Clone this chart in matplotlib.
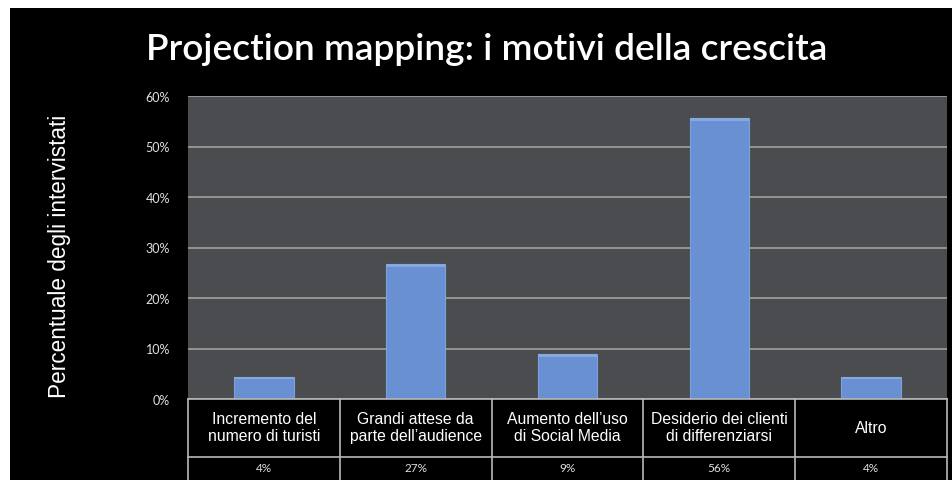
import matplotlib
matplotlib.use("Agg")
import matplotlib.pyplot as plt
import matplotlib.patches as mpatches

categories = ["Incremento del\nnumero di turisti",
              "Grandi attese da\nparte dell\u2019audience",
              "Aumento dell\u2019uso\ndi Social Media",
              "Desiderio dei clienti\ndi differenziarsi",
              "Altro"]
values = [4.4, 26.7, 8.9, 55.6, 4.4]
value_labels = ["4%", "27%", "9%", "56%", "4%"]
yticks = [0, 10, 20, 30, 40, 50, 60]
ytick_labels = ["0%", "10%", "20%", "30%", "40%", "50%", "60%"]
title = "Projection mapping: i motivi della crescita"
ylabel = "Percentuale degli intervistati"

W, H = 953, 481
fig = plt.figure(figsize=(W / 100, H / 100), dpi=100)
fig.patch.set_facecolor("white")
fig.add_artist(mpatches.Rectangle((10 / W, 0), 1, 1 - 9 / H, transform=fig.transFigure,
                                  facecolor="black", edgecolor="none", zorder=0))

L, R, T, B = 188, 947, 97, 400
ax = fig.add_axes([L / W, 1 - B / H, (R - L) / W, (B - T) / H])
ax.set_facecolor("#4a4c50")
x = list(range(len(categories)))
bars = ax.bar(x, values, width=0.39, color="#6890d2", edgecolor="#7fa2dc",
              linewidth=0.8, zorder=3)
for b in bars:
    ax.add_patch(mpatches.Rectangle((b.get_x(), b.get_height() - 0.5), b.get_width(), 0.5,
                                    facecolor="#86a8e0", edgecolor="none", zorder=4))
ax.set_xlim(-0.5, len(categories) - 0.5)
ax.set_ylim(0, 60)
ax.set_yticks(yticks)
ax.set_yticklabels(ytick_labels, family="Lato", fontsize=9, color="#e0e0e0")
ax.set_xticks([])
ax.tick_params(axis="y", length=0, pad=13)
ax.yaxis.grid(True, color="#9a9a9a", linewidth=1.3, zorder=1)
for s in ax.spines.values():
    s.set_visible(False)

fig.text(487 / W, 1 - 50 / H, title, ha="center", va="center", color="white",
         family="Lato", fontsize=26.7, fontweight="semibold")
fig.text(60 / W, 1 - 256 / H, ylabel, rotation=90, ha="center", va="center",
         color="white", family="Liberation Sans", fontsize=16.3)

r1 = 58 / (B - T)
r2 = 24 / (B - T)
lc = "#b8b8b8"
tr = ax.transAxes
ax.plot([0, 1], [0, 0], transform=tr, color=lc, lw=1.2, clip_on=False, zorder=5)
ax.plot([0, 1], [-r1, -r1], transform=tr, color=lc, lw=1.2, clip_on=False, zorder=5)
n = len(categories)
for i in range(n + 1):
    ax.plot([i / n, i / n], [0, -r1 - r2 - 0.02], transform=tr, color=lc, lw=1.2,
            clip_on=False, zorder=5)
for i in range(n):
    ax.text((i + 0.5) / n, -r1 / 2 + 0.003, categories[i], transform=tr, ha="center",
            va="center", color="white", family="Liberation Sans", fontsize=11.3,
            linespacing=1.15)
    ax.text((i + 0.5) / n, -r1 - r2 / 2 + 0.005, value_labels[i], transform=tr, ha="center",
            va="center", color="#e0e0e0", family="Lato", fontsize=8.5)

fig.savefig("out.png", dpi=100, facecolor=fig.get_facecolor())
